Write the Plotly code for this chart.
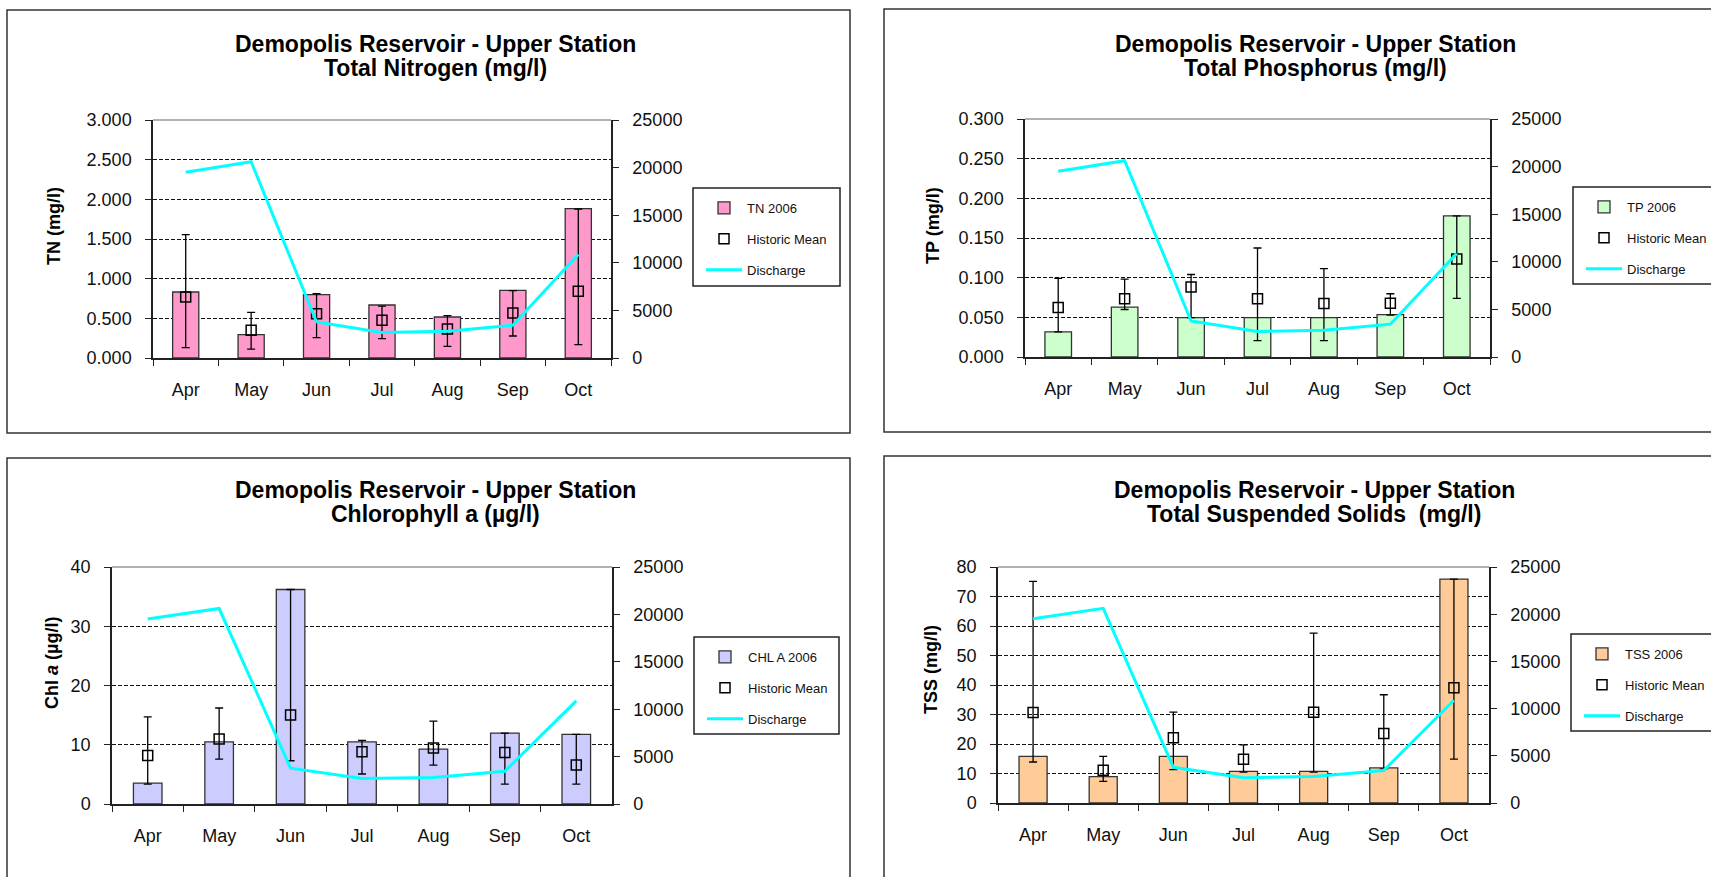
import plotly.graph_objects as go

W, H = 1711, 877

# ---------------- data ----------------
months = ["Apr", "May", "Jun", "Jul", "Aug", "Sep", "Oct"]
discharge = [19520, 20620, 3780, 2680, 2800, 3450, 10880]

tn_2006 = [0.832, 0.294, 0.798, 0.668, 0.517, 0.853, 1.882]
tn_mean = [0.769, 0.349, 0.559, 0.475, 0.366, 0.567, 0.840]
tn_max = [1.555, 0.576, 0.811, 0.655, 0.534, 0.849, 1.878]
tn_min = [0.130, 0.113, 0.256, 0.244, 0.147, 0.277, 0.168]

tp_2006 = [0.0316, 0.0628, 0.0497, 0.0497, 0.0497, 0.0535, 0.178]
tp_mean = [0.0624, 0.0734, 0.0881, 0.0734, 0.0675, 0.0679, 0.1235]
tp_max = [0.0990, 0.0982, 0.1040, 0.1374, 0.1113, 0.0797, 0.178]
tp_min = [0.0316, 0.0599, 0.0497, 0.0207, 0.0207, 0.0527, 0.0738]

chl_2006 = [3.54, 10.5, 36.2, 10.5, 9.27, 11.97, 11.74]
chl_mean = [8.2, 10.96, 15.0, 8.82, 9.44, 8.71, 6.57]
chl_max = [14.7, 16.2, 36.2, 10.73, 13.99, 11.97, 11.74]
chl_min = [3.37, 7.58, 7.3, 5.06, 6.57, 3.37, 3.37]

tss_2006 = [15.8, 8.93, 15.8, 10.7, 10.7, 11.9, 75.9]
tss_mean = [30.7, 11.1, 22.1, 14.8, 30.8, 23.6, 39.1]
tss_max = [75.1, 15.8, 30.8, 19.7, 57.6, 36.7, 75.9]
tss_min = [13.9, 7.3, 11.3, 10.5, 10.5, 11.6, 14.9]

series_names = ["TN 2006", "TP 2006", "CHL A 2006", "TSS 2006"]
title_line1 = "Demopolis Reservoir - Upper Station"
title_line2 = ["Total Nitrogen (mg/l)", "Total Phosphorus (mg/l)",
               "Chlorophyll a (µg/l)", "Total Suspended Solids \u00a0(mg/l)"]
y_titles = ["TN (mg/l)", "TP (mg/l)", "Chl <i>a</i> (µg/l)", "TSS (mg/l)"]
left_ranges = [[0, 3], [0, 0.3], [0, 40], [0, 80]]
left_dticks = [0.5, 0.05, 10, 10]
left_formats = [".3f", ".3f", "d", "d"]
right_range = [0, 25000]
right_dtick = 5000

bars = [tn_2006, tp_2006, chl_2006, tss_2006]
means = [tn_mean, tp_mean, chl_mean, tss_mean]
maxs = [tn_max, tp_max, chl_max, tss_max]
mins = [tn_min, tp_min, chl_min, tss_min]

# ---------------- styling / layout ----------------
bar_colors = ["#FF99CC", "#CCFFCC", "#CCCCFF", "#FFCC99"]
plot_px = [(153, 611, 120, 358), (1025, 1490, 119, 357),
           (112, 612, 567, 804), (998, 1489, 567, 803)]
panel_px = [(7, 850, 10, 433), (884, 1730, 9, 432),
            (7, 850, 458, 900), (884, 1730, 456, 900)]
legend_px = [(693, 840, 188, 286), (1573, 1730, 187, 284),
             (694, 839, 637, 734), (1571, 1730, 634, 731)]
title_cx = [435, 1315, 435, 1314]
title_y = [(44, 68), (44, 68), (490, 514), (490, 514)]
ytitle_pos = [(54, 226), (933, 226), (52, 663), (931, 670)]


def fx(x):
    return x / W


def fy(y):
    return 1 - y / H


FONT = "Arial, Liberation Sans, sans-serif"
AXC = "#222222"

fig = go.Figure()
layout = dict(
    width=W, height=H, margin=dict(l=0, r=0, t=0, b=0, autoexpand=False),
    paper_bgcolor="white", plot_bgcolor="white",
    font=dict(family=FONT, size=18, color="black"),
    bargap=0.6, showlegend=True,
)
shapes = []
annotations = []

for i in range(4):
    n = i + 1
    xa = "x" if n == 1 else f"x{n}"
    ya = "y" if n == 1 else f"y{n}"
    yr = f"y{n + 4}"
    leg = "legend" if n == 1 else f"legend{n}"
    l, r, t, b = plot_px[i]

    fig.add_trace(go.Bar(
        x=months, y=bars[i], name=series_names[i], xaxis=xa, yaxis=ya,
        marker=dict(color=bar_colors[i], line=dict(color="#333333", width=1.3)),
        legend=leg, legendgroup=f"g{n}a",
    ))
    fig.add_trace(go.Scatter(
        x=months, y=means[i], name="Historic Mean", xaxis=xa, yaxis=ya,
        mode="markers",
        marker=dict(symbol="square-open", size=10, color="black",
                    line=dict(width=1.5, color="black")),
        error_y=dict(type="data", symmetric=False,
                     array=[hi - m for hi, m in zip(maxs[i], means[i])],
                     arrayminus=[m - lo for m, lo in zip(means[i], mins[i])],
                     color="black", thickness=1.3, width=4),
        legend=leg, legendgroup=f"g{n}b",
    ))
    fig.add_trace(go.Scatter(
        x=months, y=discharge, name="Discharge", xaxis=xa, yaxis=yr,
        mode="lines", line=dict(color="#00FFFF", width=3),
        legend=leg, legendgroup=f"g{n}c",
    ))

    layout["xaxis" if n == 1 else f"xaxis{n}"] = dict(
        domain=[fx(l), fx(r)], anchor=ya, type="category",
        showline=True, linecolor=AXC, linewidth=1.5,
        ticks="outside", ticklen=6, tickwidth=1.3, tickcolor=AXC,
        tickson="boundaries", ticklabelstandoff=15,
        showgrid=False, zeroline=False, fixedrange=True,
        tickfont=dict(family=FONT, size=18, color="#111111"),
    )
    layout["yaxis" if n == 1 else f"yaxis{n}"] = dict(
        domain=[fy(b), fy(t)], anchor=xa, range=left_ranges[i],
        dtick=left_dticks[i], tick0=0, tickformat=left_formats[i],
        showline=True, linecolor=AXC, linewidth=1.5,
        ticks="outside", ticklen=6, tickwidth=1.3, tickcolor=AXC,
        ticklabelstandoff=10,
        showgrid=True, gridcolor="#111111", gridwidth=1, griddash="4px,2px",
        zeroline=False, fixedrange=True,
        tickfont=dict(family=FONT, size=18, color="#111111"),
    )
    layout[f"yaxis{n + 4}"] = dict(
        overlaying=ya, anchor=xa, side="right", range=right_range,
        dtick=right_dtick, tick0=0, tickformat="d",
        showline=True, linecolor=AXC, linewidth=1.5,
        ticks="outside", ticklen=6, tickwidth=1.3, tickcolor=AXC,
        ticklabelstandoff=10,
        showgrid=False, zeroline=False, fixedrange=True,
        tickfont=dict(family=FONT, size=18, color="#111111"),
    )

    lx0, lx1, ly0, ly1 = legend_px[i]
    layout[leg] = dict(
        x=fx(lx0 + 8), y=fy(ly0 + 5), xanchor="left", yanchor="top",
        bgcolor="rgba(0,0,0,0)", borderwidth=0,
        font=dict(family=FONT, size=13, color="#111111"),
        traceorder="grouped", tracegroupgap=11, itemwidth=36,
    )

    px0, px1, py0, py1 = panel_px[i]
    shapes.append(dict(type="rect", xref="paper", yref="paper",
                       x0=fx(px0), x1=fx(px1), y0=fy(py1), y1=fy(py0),
                       line=dict(color="#333333", width=1.5), layer="below"))
    shapes.append(dict(type="rect", xref="paper", yref="paper",
                       x0=fx(lx0), x1=fx(lx1), y0=fy(ly1), y1=fy(ly0),
                       line=dict(color="#222222", width=1.5), fillcolor="white",
                       layer="below"))
    shapes.append(dict(type="line", xref=f"{xa} domain", yref=f"{ya} domain",
                       x0=0, x1=1, y0=1, y1=1,
                       line=dict(color="#999999", width=1.5)))

    for k, txt in enumerate([title_line1, title_line2[i]]):
        annotations.append(dict(
            text=f"<b>{txt}</b>", x=fx(title_cx[i]), y=fy(title_y[i][k]),
            xref="paper", yref="paper", xanchor="center", yanchor="middle",
            showarrow=False, font=dict(family=FONT, size=23, color="black"),
        ))
    annotations.append(dict(
        text=f"<b>{y_titles[i]}</b>", x=fx(ytitle_pos[i][0]), y=fy(ytitle_pos[i][1]),
        xref="paper", yref="paper", xanchor="center", yanchor="middle",
        textangle=-90, showarrow=False,
        font=dict(family=FONT, size=18, color="black"),
    ))

layout["shapes"] = shapes
layout["annotations"] = annotations
fig.update_layout(**layout)

fig.write_html(
    "out.html",
    config={"displayModeBar": False},
    post_script="document.body.style.margin='0';document.body.style.overflow='hidden';",
)
